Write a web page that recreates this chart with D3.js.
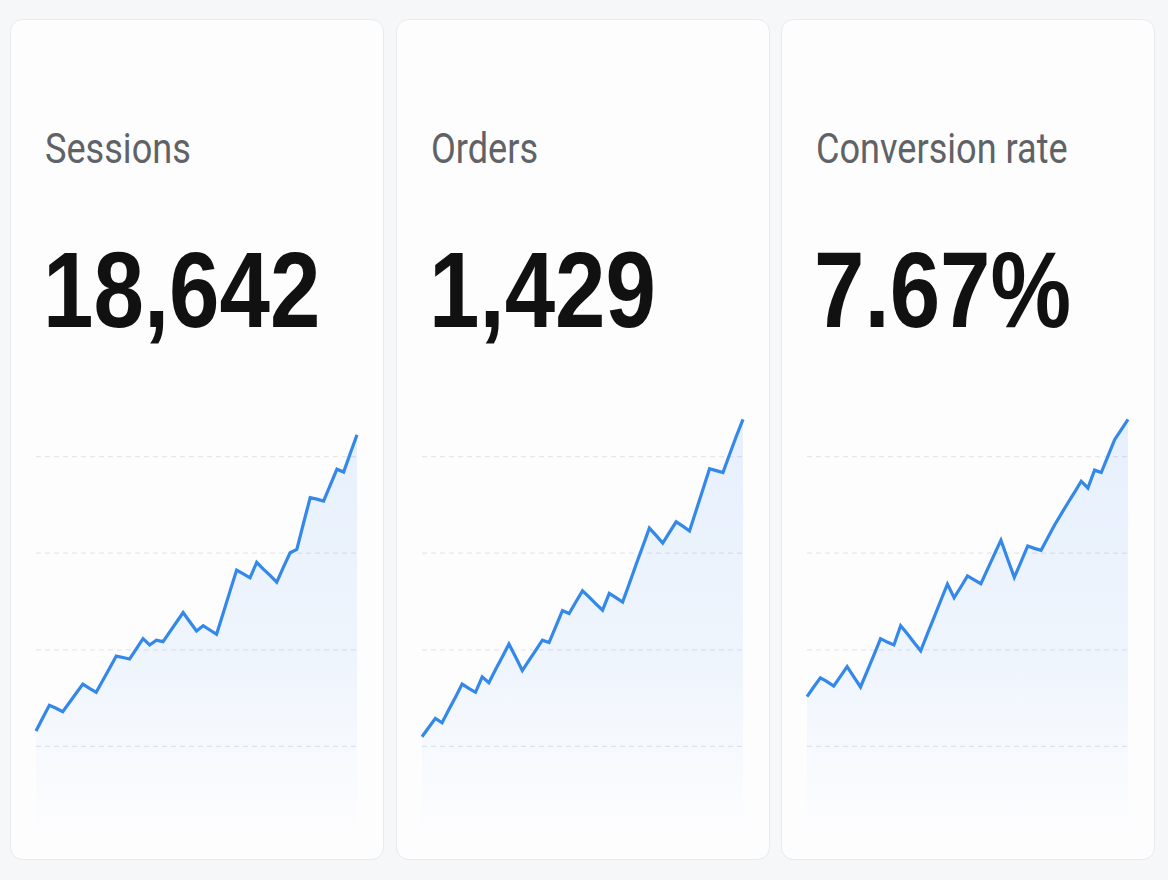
<!DOCTYPE html>
<html>
<head>
<meta charset="utf-8">
<script src="https://cdn.jsdelivr.net/npm/d3@7"></script>
<style>
    html, body { margin: 0; padding: 0; background: #f6f7f9; }
    svg { display: block; }
</style>
</head>
<body>
<div id="chart"></div>
<script>
const titles = ["Sessions", "Orders", "Conversion rate"];
const totals = ["18,642", "1,429", "7.67%"];

// sparkline values (index units, 0-100)
const sessions = [23.2, 25.9, 28.5, 27.9, 27.2, 29.1, 31.0, 32.9, 32.0, 31.2,
    33.7, 36.2, 38.7, 38.4, 38.1, 40.2, 42.3, 41.0, 42.0, 41.7,
    43.7, 45.7, 47.7, 45.8, 43.9, 45.0, 44.1, 43.2, 47.6, 52.1,
    56.5, 55.7, 54.9, 58.1, 56.7, 55.4, 54.0, 57.1, 60.1, 60.8,
    66.2, 71.5, 71.2, 70.8, 74.1, 77.4, 76.8, 80.7, 84.5];
const orders = [22.0, 23.9, 25.8, 24.9, 27.6, 30.2, 32.9, 32.0, 31.2, 34.4,
    33.2, 35.9, 38.5, 41.2, 38.5, 35.7, 37.8, 39.9, 42.0, 41.5,
    44.8, 48.1, 47.5, 49.9, 52.2, 50.9, 49.5, 48.2, 51.7, 50.8,
    49.9, 53.7, 57.6, 61.4, 65.2, 63.7, 62.1, 64.3, 66.5, 65.6,
    64.6, 68.9, 73.2, 77.5, 77.1, 76.7, 80.5, 84.2, 87.7];
const conversion = [30.3, 32.3, 34.2, 33.4, 32.5, 34.5, 36.5, 34.4, 32.3, 35.6,
    38.9, 42.3, 41.6, 41.0, 45.0, 43.3, 41.5, 39.8, 43.3, 46.7,
    50.2, 53.6, 50.8, 53.0, 55.3, 54.5, 53.7, 56.7, 59.7, 62.7,
    58.8, 55.0, 58.2, 61.5, 61.0, 60.6, 63.2, 65.8, 68.1, 70.4,
    72.6, 74.9, 73.5, 77.2, 76.7, 80.1, 83.5, 85.6, 87.7];
const gridTicks = [20, 40, 60, 80];

const series = [sessions, orders, conversion];

const W = 1168, H = 880;
const cardW = 373, cardH = 840, cardTop = 19;
const cardLefts = [10, 396, 781];
const padX = 26;

const svg = d3.select("#chart").append("svg")
    .attr("width", W)
    .attr("height", H);

svg.append("rect")
    .attr("width", W)
    .attr("height", H)
    .attr("fill", "#f6f7f9");

const defs = svg.append("defs");
const grad = defs.append("linearGradient")
    .attr("id", "fade")
    .attr("gradientUnits", "userSpaceOnUse")
    .attr("x1", 0).attr("x2", 0)
    .attr("y1", 410).attr("y2", 835);
grad.append("stop").attr("offset", 0).attr("stop-color", "#3a8bef").attr("stop-opacity", 0.12);
grad.append("stop").attr("offset", 0.6).attr("stop-color", "#3a8bef").attr("stop-opacity", 0.07);
grad.append("stop").attr("offset", 1).attr("stop-color", "#3a8bef").attr("stop-opacity", 0);

const y = d3.scaleLinear().domain([0, 100]).range([843, 360]);

for (let c = 0; c < 3; c++) {
    const left = cardLefts[c];
    const g = svg.append("g");

    g.append("rect")
        .attr("x", left + 0.5)
        .attr("y", cardTop + 0.5)
        .attr("width", cardW)
        .attr("height", cardH)
        .attr("rx", 12)
        .attr("fill", "#fdfdfe")
        .attr("stroke", "#e8eaee");

    g.append("text")
        .attr("transform", `translate(${left + 35},163) scale(0.86,1)`)
        .attr("font-family", "Roboto, 'Liberation Sans', sans-serif")
        .attr("font-size", 42)
        .attr("fill", "#5f6266")
        .text(titles[c]);

    g.append("text")
        .attr("transform", `translate(${left + 33},327) scale(0.84,1)`)
        .attr("font-family", "'Liberation Sans', Arial, sans-serif")
        .attr("font-weight", 700)
        .attr("font-size", 108)
        .attr("fill", "#111111")
        .text(totals[c]);

    const data = series[c];
    const x = d3.scaleLinear()
        .domain([0, data.length - 1])
        .range([left + padX, left + cardW - padX]);

    g.selectAll("line.grid")
        .data(gridTicks)
        .join("line")
        .attr("class", "grid")
        .attr("x1", x.range()[0])
        .attr("x2", x.range()[1])
        .attr("y1", d => y(d))
        .attr("y2", d => y(d))
        .attr("stroke", "#e4e7ed")
        .attr("stroke-width", 1.2)
        .attr("stroke-dasharray", "5,4");

    const area = d3.area()
        .x((d, i) => x(i))
        .y0(y(0))
        .y1(d => y(d));
    const line = d3.line()
        .x((d, i) => x(i))
        .y(d => y(d));

    g.append("path")
        .datum(data)
        .attr("d", area)
        .attr("fill", "url(#fade)");

    g.append("path")
        .datum(data)
        .attr("d", line)
        .attr("fill", "none")
        .attr("stroke", "#3388ea")
        .attr("stroke-width", 3.2)
        .attr("stroke-linejoin", "miter")
        .attr("stroke-linecap", "butt");
}
</script>
</body>
</html>
